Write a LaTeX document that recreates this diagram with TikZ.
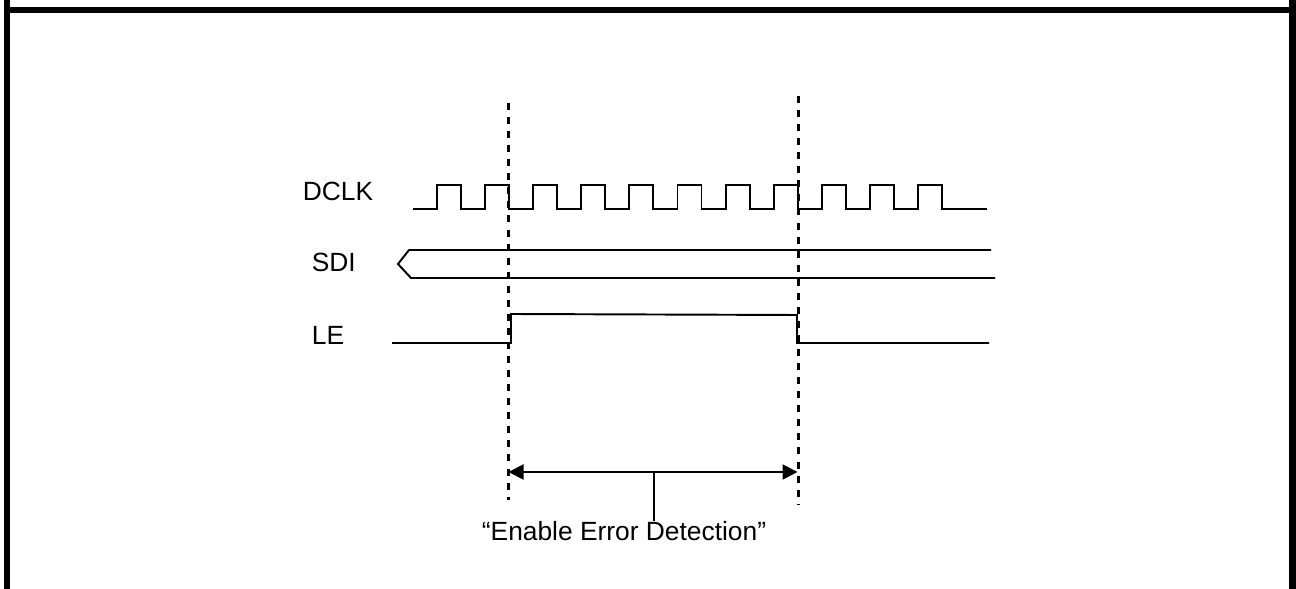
\documentclass[tikz,border=0pt]{standalone}
\usepackage{fontspec}
\setmainfont{Liberation Sans}
\usetikzlibrary{positioning,calc,arrows.meta}

\tikzset{
    signal/.style={line width=1.1pt},
    marker/.style={line width=1.3pt, dash pattern=on 4pt off 4pt},
    sig label/.style={anchor=base west, inner sep=0pt, font=\fontsize{15}{18}\selectfont}
}

\begin{document}
\begin{tikzpicture}
    \useasboundingbox (0,0) rectangle (25.92,11.78);
    % Frame
    \draw [line width=0.13cm] (0.14,11.78) -- (0.14,11.58) -- (25.85,11.58) -- (25.85,0) -- (25.85,11.78);
    \draw [line width=0.13cm] (0.14,11.78) -- (0.14,0);
    % Labels
    \node [sig label] (dclk) at (6.05,7.76) {DCLK};
    \node [sig label] (sdi) at (6.23,6.34) {SDI};
    \node [sig label] (le) at (6.23,4.88) {LE};
    % DCLK
    \draw [signal] (8.26,7.6) foreach \k in {0,...,10} { -- ({8.74+0.962*\k},7.6) -- ++(0,0.48) -- ++(0.48,0) -- ++(0,-0.48) } -- (19.74,7.6);
    % SDI
    \draw [signal] (19.82,6.78) -- (8.18,6.78) -- (7.96,6.5) -- (8.22,6.22) -- (19.9,6.22);
    % LE
    \draw [signal] (7.84,4.92) -- (10.22,4.92) -- (10.22,5.5) -- (15.94,5.48) -- (15.94,4.92) -- (19.78,4.92);
    % Markers
    \coordinate (mA) at (10.17,2.34);
    \coordinate (mB) at (15.95,2.34);
    \draw [marker] (10.17,9.72) -- (10.17,1.78);
    \draw [marker] (15.97,9.86) -- (15.97,1.68);
    \draw [signal, {Triangle[length=0.3cm,width=0.3cm]}-{Triangle[length=0.3cm,width=0.3cm]}] (mA) -- (mB);
    \node [anchor=base, inner sep=0pt, font=\fontsize{15}{18}\selectfont] (window) at (12.48,0.96) {``Enable Error Detection''};
    \coordinate (tick) at (13.08,2.34);
    \draw [signal] (tick) -- ($(tick |- window.north)+(0,0.02)$);
\end{tikzpicture}
\end{document}
